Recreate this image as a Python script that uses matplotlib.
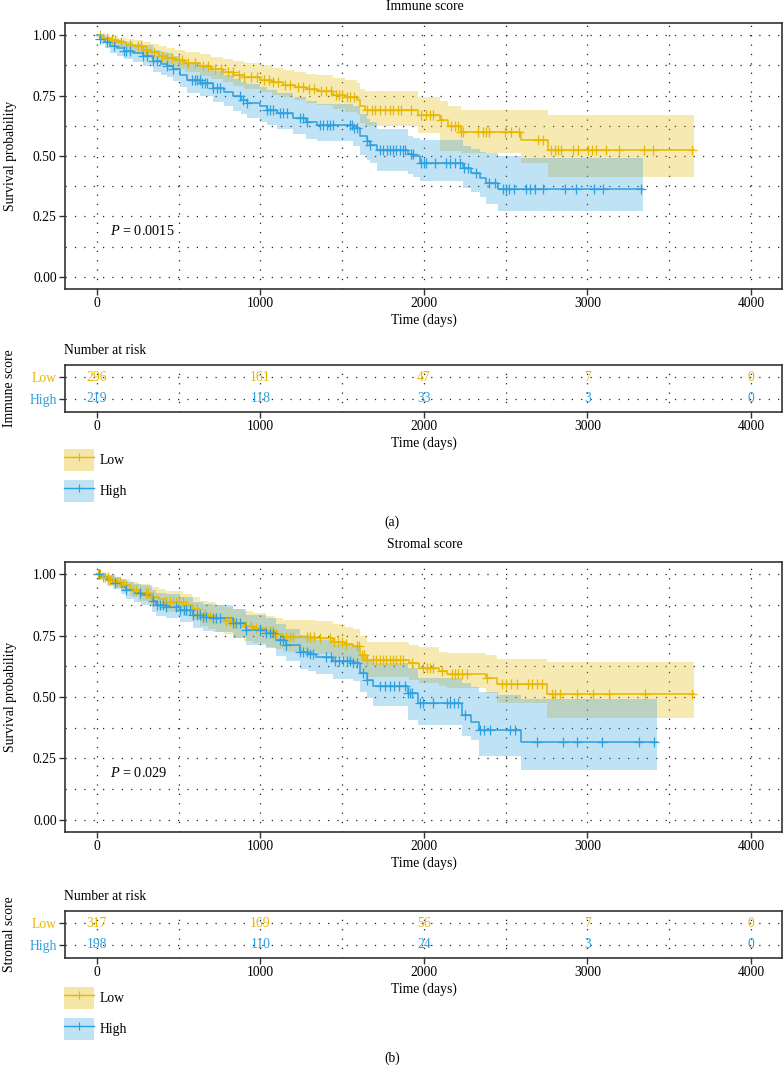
import numpy as np
import matplotlib
matplotlib.use('Agg')
import matplotlib.pyplot as plt
from matplotlib.patches import Patch
from matplotlib.lines import Line2D
from matplotlib.legend_handler import HandlerTuple
from matplotlib.ticker import MultipleLocator

plt.rcParams['font.family'] = ['Liberation Serif', 'DejaVu Serif']
plt.rcParams['mathtext.fontset'] = 'custom'
plt.rcParams['mathtext.it'] = 'Liberation Serif:italic'
plt.rcParams['mathtext.rm'] = 'Liberation Serif'

LOW_C = '#E7B800'
HIGH_C = '#2E9FDF'
GRID_C = '#222222'
FS = 9.8

# ---- panel (a): immune score ----
a_low_t = [0, 30, 80, 130, 180, 224, 280, 330, 380, 428, 480, 540, 631, 700, 770, 835, 900, 998,
           1070, 1140, 1210, 1280, 1344, 1446, 1520, 1589, 1609, 1640, 1963, 2096, 2147, 2228, 2595, 2758]
a_low_s = [1.0, 0.99, 0.98, 0.97, 0.96, 0.954, 0.94, 0.93, 0.915, 0.906, 0.895, 0.885, 0.871, 0.86,
           0.848, 0.837, 0.826, 0.816, 0.805, 0.795, 0.785, 0.776, 0.768, 0.754, 0.745, 0.733, 0.705,
           0.692, 0.671, 0.65, 0.622, 0.599, 0.567, 0.526]
a_low_up = [1.0, 1.0, 0.995, 0.99, 0.985, 0.98, 0.972, 0.965, 0.955, 0.948, 0.94, 0.932, 0.92, 0.91,
            0.9, 0.892, 0.883, 0.875, 0.865, 0.857, 0.848, 0.84, 0.833, 0.822, 0.814, 0.803, 0.778,
            0.77, 0.745, 0.727, 0.706, 0.692, 0.692, 0.671]
a_low_lo = [1.0, 0.978, 0.962, 0.948, 0.935, 0.928, 0.912, 0.9, 0.884, 0.872, 0.858, 0.846, 0.83,
            0.818, 0.804, 0.79, 0.778, 0.766, 0.754, 0.742, 0.73, 0.72, 0.71, 0.695, 0.684, 0.67,
            0.638, 0.625, 0.595, 0.519, 0.519, 0.512, 0.47, 0.415]
a_low_end = 3654
a_low_cens = [20, 40, 60, 90, 110, 150, 200, 250, 270, 300, 350, 400, 430, 460, 500, 520, 560, 600,
              650, 680, 720, 760, 800, 830, 870, 900, 940, 980, 1020, 1050, 1080, 1110, 1150, 1180,
              1230, 1260, 1300, 1330, 1370, 1400, 1430, 1460, 1480, 1500, 1530, 1550, 1570, 1650,
              1680, 1700, 1730, 1760, 1790, 1810, 1840, 1860, 1923, 1980, 2010, 2040, 2055, 2106,
              2167, 2190, 2210, 2228, 2238, 2330, 2360, 2380, 2401, 2493, 2534, 2580, 2697, 2727,
              2780, 2800, 2820, 2839, 2910, 2940, 3002, 3030, 3053, 3114, 3191, 3348, 3399, 3639]

a_high_t = [0, 20, 50, 81, 120, 163, 220, 285, 346, 390, 428, 468, 510, 550, 631, 713, 780, 835, 880,
            916, 1000, 1039, 1100, 1202, 1280, 1344, 1568, 1609, 1650, 1670, 1711, 1902, 1935, 1974,
            2238, 2289, 2340, 2381, 2452, 2595]
a_high_s = [1.0, 0.985, 0.97, 0.954, 0.945, 0.934, 0.925, 0.913, 0.892, 0.88, 0.871, 0.858, 0.835,
            0.816, 0.802, 0.781, 0.765, 0.747, 0.733, 0.719, 0.705, 0.692, 0.678, 0.657, 0.64, 0.629,
            0.615, 0.581, 0.56, 0.546, 0.526, 0.509, 0.498, 0.47, 0.449, 0.429, 0.408, 0.387, 0.363,
            0.363]
a_high_up = [1.0, 1.0, 0.993, 0.985, 0.98, 0.972, 0.965, 0.957, 0.94, 0.93, 0.925, 0.915, 0.896,
             0.88, 0.868, 0.85, 0.836, 0.82, 0.808, 0.796, 0.784, 0.772, 0.76, 0.742, 0.726, 0.716,
             0.705, 0.672, 0.652, 0.64, 0.612, 0.581, 0.575, 0.567, 0.54, 0.53, 0.515, 0.512, 0.5,
             0.491]
a_high_lo = [1.0, 0.968, 0.948, 0.925, 0.913, 0.9, 0.888, 0.874, 0.848, 0.835, 0.825, 0.81, 0.785,
             0.762, 0.748, 0.725, 0.705, 0.688, 0.672, 0.657, 0.642, 0.628, 0.612, 0.59, 0.572, 0.56,
             0.542, 0.506, 0.484, 0.47, 0.436, 0.425, 0.415, 0.395, 0.367, 0.35, 0.33, 0.30, 0.272,
             0.272]
a_high_end = 3338
a_high_cens = [20, 60, 102, 163, 180, 204, 285, 305, 346, 367, 428, 468, 580, 600, 615, 630, 645,
               660, 672, 713, 735, 754, 876, 895, 917, 1039, 1060, 1080, 1120, 1140, 1161, 1242,
               1262, 1283, 1365, 1385, 1405, 1425, 1446, 1548, 1560, 1575, 1589, 1650, 1670, 1731,
               1750, 1772, 1790, 1810, 1830, 1853, 1870, 1882, 1923, 1933, 1984, 2000, 2014, 2065,
               2136, 2160, 2190, 2218, 2248, 2269, 2320, 2401, 2432, 2483, 2500, 2520, 2554, 2625,
               2650, 2680, 2727, 2860, 2931, 3043, 3094, 3328]

# ---- panel (b): stromal score ----
b_low_t = [0, 30, 70, 118, 150, 200, 220, 260, 322, 380, 424, 527, 580, 629, 680, 731, 780, 833, 900,
           955, 1037, 1090, 1139, 1343, 1445, 1520, 1567, 1608, 1649, 1910, 1970, 2090, 2140, 2380,
           2450, 2755]
b_low_s = [1.0, 0.99, 0.975, 0.97, 0.955, 0.94, 0.936, 0.925, 0.909, 0.898, 0.889, 0.875, 0.86, 0.84,
           0.83, 0.82, 0.81, 0.80, 0.79, 0.78, 0.767, 0.757, 0.746, 0.74, 0.726, 0.715, 0.706, 0.672,
           0.651, 0.638, 0.618, 0.605, 0.594, 0.578, 0.555, 0.514]
b_low_up = [1.0, 1.0, 0.995, 0.99, 0.982, 0.972, 0.968, 0.96, 0.948, 0.94, 0.932, 0.92, 0.908, 0.893,
            0.885, 0.876, 0.868, 0.86, 0.851, 0.842, 0.831, 0.823, 0.814, 0.809, 0.796, 0.787, 0.779,
            0.75, 0.726, 0.712, 0.705, 0.685, 0.68, 0.671, 0.654, 0.644]
b_low_lo = [1.0, 0.978, 0.958, 0.95, 0.932, 0.912, 0.906, 0.892, 0.872, 0.858, 0.848, 0.832, 0.814,
            0.79, 0.778, 0.766, 0.755, 0.742, 0.73, 0.72, 0.705, 0.694, 0.682, 0.674, 0.66, 0.648,
            0.638, 0.6, 0.583, 0.569, 0.556, 0.545, 0.536, 0.515, 0.475, 0.414]
b_low_end = 3650
b_low_cens = [6, 20, 35, 50, 65, 78, 98, 120, 140, 160, 180, 220, 240, 261, 302, 315, 330, 343, 424,
              445, 465, 485, 505, 525, 547, 588, 610, 630, 660, 690, 731, 792, 815, 840, 873, 914,
              945, 976, 1037, 1060, 1080, 1098, 1159, 1180, 1200, 1282, 1305, 1330, 1363, 1424,
              1450, 1475, 1500, 1526, 1588, 1605, 1620, 1635, 1649, 1690, 1710, 1730, 1750, 1770,
              1790, 1810, 1830, 1853, 1874, 1925, 1996, 2020, 2040, 2058, 2109, 2170, 2190, 2210,
              2230, 2262, 2384, 2476, 2500, 2530, 2568, 2639, 2660, 2690, 2721, 2782, 2800, 2833,
              2935, 3037, 3129, 3354, 3639]

b_high_t = [0, 25, 60, 100, 150, 180, 230, 270, 340, 360, 420, 506, 588, 650, 710, 833, 914, 1037,
            1098, 1159, 1241, 1290, 1343, 1445, 1567, 1608, 1649, 1690, 1903, 1963, 2230, 2290, 2336,
            2455, 2592]
b_high_s = [1.0, 0.99, 0.975, 0.965, 0.95, 0.936, 0.925, 0.916, 0.89, 0.875, 0.868, 0.855, 0.834,
            0.825, 0.82, 0.80, 0.773, 0.76, 0.733, 0.712, 0.685, 0.675, 0.665, 0.645, 0.638, 0.597,
            0.57, 0.543, 0.516, 0.475, 0.427, 0.40, 0.366, 0.366, 0.315]
b_high_up = [1.0, 1.0, 0.995, 0.99, 0.982, 0.97, 0.962, 0.955, 0.935, 0.924, 0.918, 0.906, 0.888,
             0.88, 0.875, 0.857, 0.833, 0.82, 0.796, 0.777, 0.752, 0.742, 0.733, 0.715, 0.708, 0.67,
             0.645, 0.637, 0.617, 0.576, 0.556, 0.542, 0.522, 0.508, 0.491]
b_high_lo = [1.0, 0.975, 0.952, 0.938, 0.918, 0.9, 0.888, 0.876, 0.846, 0.83, 0.822, 0.806, 0.782,
             0.77, 0.764, 0.742, 0.713, 0.698, 0.668, 0.645, 0.616, 0.605, 0.594, 0.572, 0.565, 0.522,
             0.494, 0.462, 0.407, 0.386, 0.34, 0.325, 0.26, 0.26, 0.203]
b_high_end = 3426
b_high_cens = [12, 108, 180, 261, 343, 365, 385, 405, 424, 486, 510, 530, 547, 567, 590, 610, 630,
               650, 669, 710, 730, 751, 833, 853, 873, 914, 996, 1037, 1058, 1078, 1118, 1140, 1159,
               1241, 1262, 1282, 1302, 1322, 1404, 1430, 1455, 1480, 1505, 1527, 1547, 1567, 1588,
               1629, 1649, 1731, 1760, 1790, 1820, 1850, 1884, 1905, 1915, 1925, 1976, 1996, 2058,
               2139, 2160, 2185, 2211, 2252, 2343, 2370, 2404, 2527, 2558, 2690, 2853, 2935, 3088,
               3313, 3409]

# ---- number at risk ----
risk_times = [0, 1000, 2000, 3000, 4000]
a_risk_low = [296, 161, 47, 7, 0]
a_risk_high = [219, 118, 33, 3, 0]
b_risk_low = [317, 169, 56, 7, 0]
b_risk_high = [198, 110, 24, 3, 0]

W, H = 784, 1075
fig = plt.figure(figsize=(W / 100, H / 100), dpi=100)


def fbox(left, top, right, bottom):
    return [left / W, 1 - bottom / H, (right - left) / W, (bottom - top) / H]


def style_axes(ax):
    for sp in ax.spines.values():
        sp.set_color('#333333')
        sp.set_linewidth(1.2)
    ax.tick_params(axis='both', which='major', length=4, width=1, color='#333333',
                   labelsize=FS, pad=2)
    ax.tick_params(axis='both', which='minor', length=0)
    ax.set_xlim(-195, 4190)
    ax.xaxis.set_major_locator(MultipleLocator(1000))
    ax.xaxis.set_minor_locator(MultipleLocator(500))


def km_curve(ax, t, s, up, lo, end, cens, color):
    t = np.array(t + [end], dtype=float)
    s = np.array(s + [s[-1]])
    up = np.array(up + [up[-1]])
    lo = np.array(lo + [lo[-1]])
    ax.fill_between(t, lo, up, step='post', color=color, alpha=0.3, lw=0, zorder=2)
    ax.step(t, s, where='post', color=color, lw=1.1, zorder=3)
    c = np.array(cens, dtype=float)
    idx = np.searchsorted(t, c, side='right') - 1
    ax.plot(c, s[idx], ls='none', marker='+', ms=6.5, mew=0.9, color=color, zorder=4)


def km_panel(top, bottom, title, data, pval):
    ax = fig.add_axes(fbox(65, top, 782, bottom))
    style_axes(ax)
    ax.set_ylim(-0.05, 1.05)
    ax.yaxis.set_minor_locator(MultipleLocator(0.125))
    ax.set_yticks([0, 0.25, 0.5, 0.75, 1.0])
    ax.set_yticklabels(['0.00', '0.25', '0.50', '0.75', '1.00'])
    ax.grid(True, which='both', color=GRID_C, lw=0.9, ls=(0, (1, 6.5)))
    ax.set_axisbelow(True)
    for args, col in zip(data, [LOW_C, HIGH_C]):
        km_curve(ax, *args, col)
    ax.text(81, 0.19, pval, fontsize=10.3, va='center', ha='left')
    ax.set_xlabel('Time (days)', fontsize=FS, labelpad=2)
    fig.text(11 / W, 1 - (top + bottom) / 2 / H, 'Survival probability', fontsize=FS,
             rotation=90, ha='center', va='center')
    fig.text(425 / W, 1 - (top - 17) / H, title, fontsize=FS, ha='center', va='center')
    return ax


def risk_table(top, bottom, name, low, high):
    ax = fig.add_axes(fbox(65, top, 782, bottom))
    style_axes(ax)
    ax.set_ylim(-0.6, 1.55)
    ax.set_yticks([1, 0])
    ax.set_yticklabels(['Low', 'High'])
    for lab, col in zip(ax.get_yticklabels(), [LOW_C, HIGH_C]):
        lab.set_color(col)
    ax.yaxis.set_minor_locator(MultipleLocator(10))
    ax.grid(True, which='both', color=GRID_C, lw=0.9, ls=(0, (1, 6.5)))
    ax.set_axisbelow(True)
    for x, n in zip(risk_times, low):
        ax.text(x, 1, str(n), color=LOW_C, fontsize=FS, ha='center', va='center')
    for x, n in zip(risk_times, high):
        ax.text(x, 0, str(n), color=HIGH_C, fontsize=FS, ha='center', va='center')
    ax.set_xlabel('Time (days)', fontsize=FS, labelpad=2)
    fig.text(64 / W, 1 - (top - 15) / H, 'Number at risk', fontsize=FS, ha='left', va='center')
    fig.text(10 / W, 1 - (top + bottom) / 2 / H, name, fontsize=FS, rotation=90,
             ha='center', va='center')
    return ax


def legend(top):
    hl = (Patch(facecolor=LOW_C, alpha=0.35, lw=0),
          Line2D([], [], color=LOW_C, lw=1, marker='+', ms=6, mew=0.8))
    hh = (Patch(facecolor=HIGH_C, alpha=0.3, lw=0),
          Line2D([], [], color=HIGH_C, lw=1, marker='+', ms=6, mew=0.8))
    fig.legend([hl, hh], ['Low', 'High'], handler_map={tuple: HandlerTuple(ndivide=1, pad=0)},
               loc='upper left', bbox_to_anchor=(64 / W, 1 - top / H), frameon=False,
               fontsize=FS, borderpad=0, borderaxespad=0, handlelength=2.2, handleheight=2.11,
               labelspacing=0.66, handletextpad=0.4)


a_data = [(a_low_t, a_low_s, a_low_up, a_low_lo, a_low_end, a_low_cens),
          (a_high_t, a_high_s, a_high_up, a_high_lo, a_high_end, a_high_cens)]
b_data = [(b_low_t, b_low_s, b_low_up, b_low_lo, b_low_end, b_low_cens),
          (b_high_t, b_high_s, b_high_up, b_high_lo, b_high_end, b_high_cens)]

km_panel(23, 289, 'Immune score', a_data, r'$P$ = 0.0015')
risk_table(365, 412, 'Immune score', a_risk_low, a_risk_high)
legend(449)
fig.text(392 / W, 1 - 522 / H, '(a)', fontsize=FS, ha='center', va='center')

km_panel(562, 832, 'Stromal score', b_data, r'$P$ = 0.029')
risk_table(911, 958, 'Stromal score', b_risk_low, b_risk_high)
legend(987)
fig.text(392 / W, 1 - 1058 / H, '(b)', fontsize=FS, ha='center', va='center')

fig.savefig('out.png', dpi=100)
